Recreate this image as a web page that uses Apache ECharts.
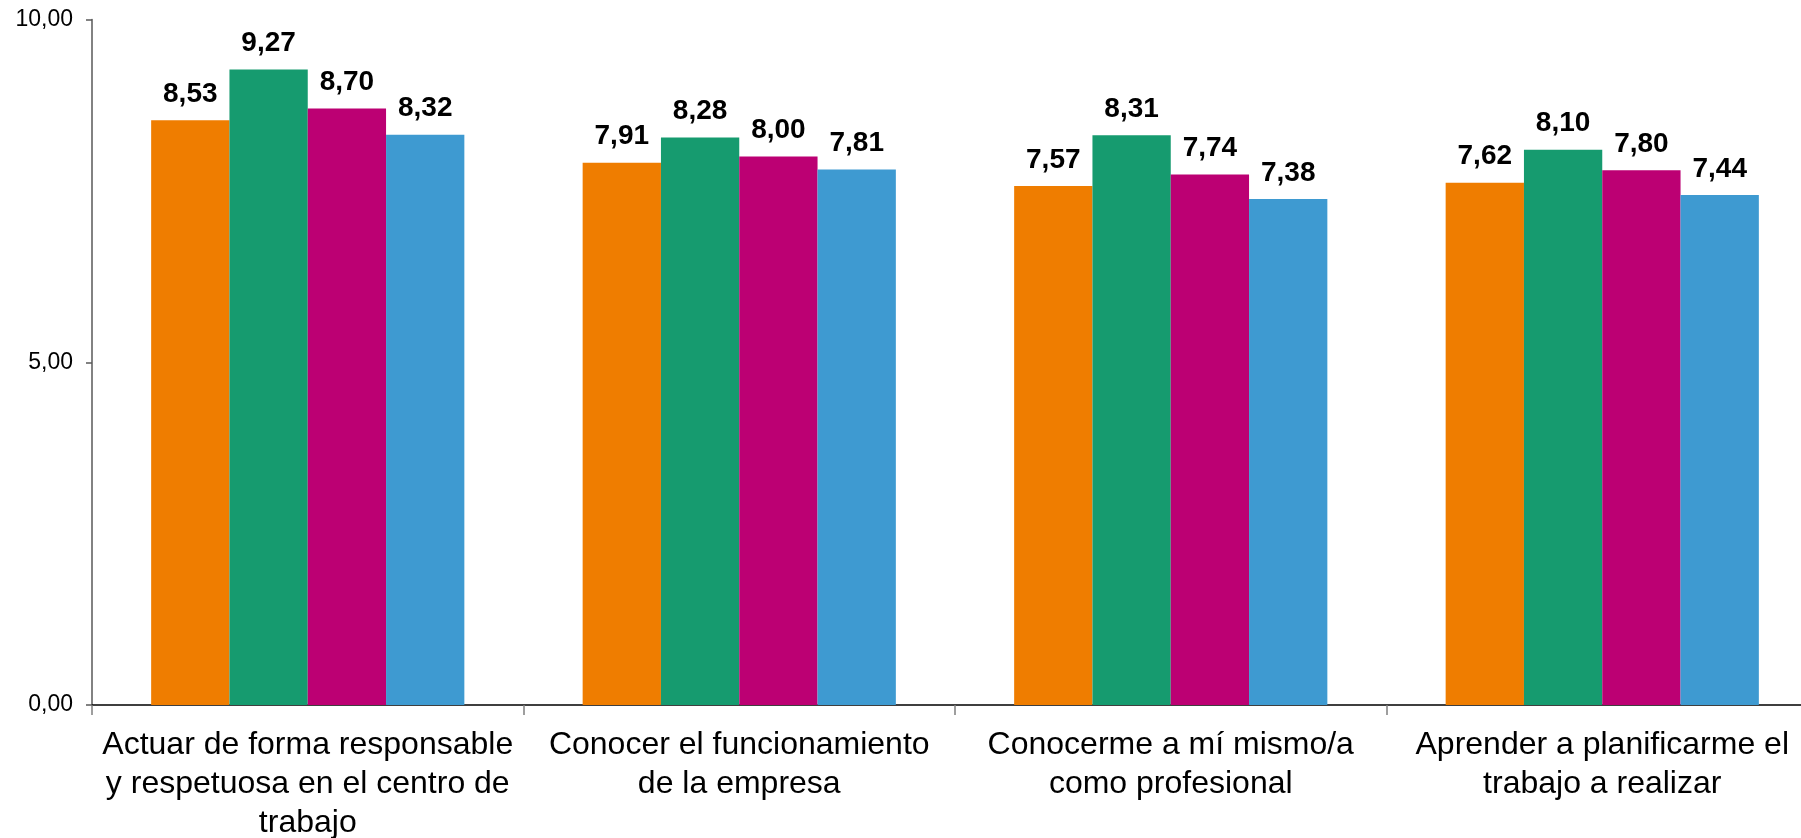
<!DOCTYPE html>
<html>
<head>
<meta charset="utf-8">
<script src="https://cdn.jsdelivr.net/npm/echarts@6/dist/echarts.min.js"></script>
<style>
html,body{margin:0;padding:0;background:#fff;}
#chart{width:1801px;height:838px;}
</style>
</head>
<body>
<div id="chart"></div>
<script>
const categories = [
  "Actuar de forma responsable\ny respetuosa en el centro de\ntrabajo",
  "Conocer el funcionamiento\nde la empresa",
  "Conocerme a mí mismo/a\ncomo profesional",
  "Aprender a planificarme el\ntrabajo a realizar"
];
const serie1 = [8.53, 7.91, 7.57, 7.62];
const serie2 = [9.27, 8.28, 8.31, 8.10];
const serie3 = [8.70, 8.00, 7.74, 7.80];
const serie4 = [8.32, 7.81, 7.38, 7.44];
const seriesNames = ["Serie 1", "Serie 2", "Serie 3", "Serie 4"];
const seriesData = [serie1, serie2, serie3, serie4];
const colors = ["#EF7D00", "#169B6F", "#BC0073", "#3E9AD1"];
const yTicks = { min: 0, max: 10, interval: 5 };

const fmt = v => v.toFixed(2).replace('.', ',');

const chart = echarts.init(document.getElementById('chart'), null, {renderer: 'canvas'});
chart.setOption({
  animation: false,
  backgroundColor: '#ffffff',
  grid: { left: 92, right: -17, top: 19.5, bottom: 133, containLabel: false, outerBoundsMode: 'none' },
  xAxis: {
    type: 'category',
    data: categories,
    boundaryGap: true,
    axisLine: { show: true, lineStyle: { color: '#000000', width: 1.5 } },
    axisTick: { show: true, length: 10, lineStyle: { color: '#7f7f7f', width: 1.5 } },
    axisLabel: {
      interval: 0,
      color: '#000000',
      fontFamily: 'Liberation Sans, Arial, sans-serif',
      fontSize: 32,
      lineHeight: 39,
      margin: 21,
      align: 'center'
    }
  },
  yAxis: {
    type: 'value',
    min: yTicks.min, max: yTicks.max, interval: yTicks.interval,
    splitLine: { show: false },
    axisLine: { show: true, lineStyle: { color: '#595959', width: 1.5 } },
    axisTick: { show: true, length: 6, lineStyle: { color: '#595959', width: 1.5 } },
    axisLabel: {
      color: '#000000',
      fontFamily: 'Liberation Sans, Arial, sans-serif',
      fontSize: 23,
      margin: 19,
      formatter: v => fmt(v)
    }
  },
  series: seriesData.map((d, i) => ({
    name: seriesNames[i],
    type: 'bar',
    data: d,
    barWidth: 78.3,
    barGap: '0%',
    itemStyle: { color: colors[i] },
    label: {
      show: true,
      position: 'top',
      distance: 12,
      color: '#000000',
      fontFamily: 'Liberation Sans, Arial, sans-serif',
      fontWeight: 'bold',
      fontSize: 28,
      formatter: p => fmt(p.value)
    }
  }))
});
</script>
</body>
</html>
